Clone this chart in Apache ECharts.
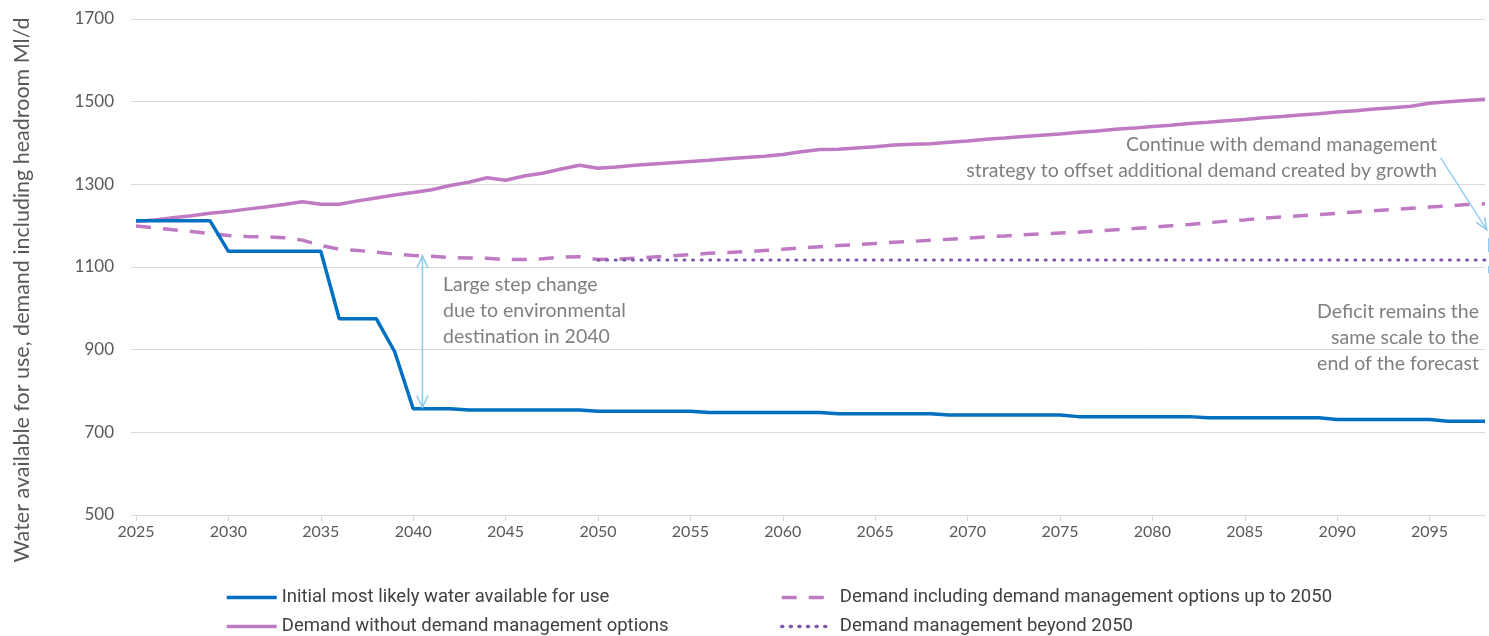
<!DOCTYPE html>
<html>
<head>
<meta charset="utf-8">
<script src="https://cdn.jsdelivr.net/npm/echarts@6/dist/echarts.min.js"></script>
<style>
html,body{margin:0;padding:0;background:#fff;}
#chart{width:1489px;height:636px;}
</style>
</head>
<body>
<div id="chart"></div>
<script>
// ---- data ----
const years = [];
for (let y = 2025; y <= 2098; y++) years.push(y);

const yTicks = [500, 700, 900, 1100, 1300, 1500, 1700];
const yAxisTitle = 'Water available for use, demand including headroom Ml/d';

const availableForUse = [
  1212, 1212, 1212, 1212, 1212,
  1138, 1138, 1138, 1138, 1138, 1138,
  975, 975, 975,
  895,
  757, 757, 757,
  754, 754, 754, 754, 754, 754, 754,
  751, 751, 751, 751, 751, 751,
  748, 748, 748, 748, 748, 748, 748,
  745, 745, 745, 745, 745, 745,
  742, 742, 742, 742, 742, 742, 742,
  738, 738, 738, 738, 738, 738, 738,
  735, 735, 735, 735, 735, 735, 735,
  731, 731, 731, 731, 731, 731,
  727, 727, 727
];

const demandWithoutDM = [
  1210, 1214, 1219, 1224, 1230, 1234, 1240, 1245, 1251, 1258,
  1252, 1252, 1260, 1267, 1274, 1280, 1287, 1297, 1305, 1316,
  1310, 1320, 1327, 1337, 1346, 1339, 1342, 1346, 1349, 1352,
  1355, 1358, 1362, 1365, 1368, 1372, 1379, 1384, 1385, 1388,
  1391, 1395, 1397, 1398, 1402, 1405, 1409, 1412, 1416, 1419,
  1422, 1426, 1429, 1433, 1436, 1440, 1443, 1447, 1450, 1454,
  1457, 1461, 1464, 1468, 1471, 1475, 1478, 1482, 1485, 1489,
  1496, 1500, 1503, 1506
];

const demandWithDMTo2050 = [
  1199, 1195, 1190, 1186, 1181, 1176, 1174, 1173, 1171, 1165,
  1152, 1143, 1140, 1136, 1131, 1128, 1126, 1123, 1122, 1121,
  1118, 1118, 1120, 1124, 1125, 1118, 1119, 1121, 1124, 1127,
  1130, 1133, 1135, 1137, 1140, 1143, 1146, 1149, 1152, 1154,
  1157, 1160, 1162, 1165, 1167, 1170, 1173, 1175, 1178, 1180,
  1182, 1184, 1187, 1190, 1193, 1196, 1200, 1203, 1207, 1211,
  1214, 1218, 1221, 1224, 1227, 1230, 1233, 1236, 1239, 1242,
  1245, 1248, 1251, 1253
];

const beyond2050StartYear = 2050;
const dmBeyond2050 = [
  1117, 1117, 1117, 1117, 1117, 1117, 1117, 1117, 1117, 1117,
  1117, 1117, 1117, 1117, 1117, 1117, 1117, 1117, 1117, 1117,
  1117, 1117, 1117, 1117, 1117, 1117, 1117, 1117, 1117, 1117,
  1117, 1117, 1117, 1117, 1117, 1117, 1117, 1117, 1117, 1117,
  1117, 1117, 1117, 1117, 1117, 1117, 1117, 1117, 1117
];

const seriesNames = [
  'Initial most likely water available for use',
  'Demand without demand management options',
  'Demand including demand management options up to 2050',
  'Demand management beyond 2050'
];

// ---- build ----
const pairs = (vals, start) => vals.map((v, i) => [start + i, v]);

const BLUE = '#0070C0', PURPLE = '#BF7AC4', DOT = '#7B58A8';
const ARROW = '#8CCBF0', TXT = '#7F7F7F';
const labelFont = 'Lato, "Open Sans", sans-serif';
const legendFont = 'Roboto, "Liberation Sans", sans-serif';

const chart = echarts.init(document.getElementById('chart'), null, {renderer: 'canvas'});

const legendBase = {
  orient: 'vertical', top: 588, height: 80, padding: 0,
  itemWidth: 50, itemHeight: 14, itemGap: 10,
  itemStyle: {opacity: 0},
  lineStyle: {width: 3.5},
  textStyle: {fontFamily: legendFont, fontSize: 18.5, color: '#404040'},
  selectedMode: false
};

chart.setOption({
  animation: false,
  backgroundColor: '#ffffff',
  grid: {left: 136, right: 4, top: 19, bottom: 121, containLabel: false, outerBoundsMode: 'none'},
  legend: [
    Object.assign({}, legendBase, {left: 225, data: [seriesNames[0], seriesNames[1]]}),
    Object.assign({}, legendBase, {left: 780, itemWidth: 44,
      textStyle: {fontFamily: legendFont, fontSize: 18.5, color: '#404040', padding: [0, 0, 0, 9]},
      data: [seriesNames[2], seriesNames[3]]})
  ],
  xAxis: {
    type: 'value', min: years[0], max: years[years.length - 1], interval: 5,
    axisLine: {show: true, lineStyle: {color: '#D9D9D9', width: 1}},
    axisTick: {show: true, length: 6, lineStyle: {color: '#D9D9D9'}},
    splitLine: {show: false},
    axisLabel: {
      color: '#595959', fontSize: 16, fontFamily: labelFont, margin: 9,
      showMaxLabel: false,
      formatter: v => (v % 5 === 0 ? String(v) : '')
    }
  },
  yAxis: {
    type: 'value', min: yTicks[0], max: yTicks[yTicks.length - 1], interval: 200,
    axisLine: {show: false},
    axisTick: {show: true, length: 5, lineStyle: {color: '#D9D9D9'}},
    splitLine: {show: true, lineStyle: {color: '#D9D9D9', width: 1}},
    axisLabel: {color: '#595959', fontSize: 17, fontFamily: labelFont, margin: 22,
      formatter: v => String(v)}
  },
  series: [
    {
      name: seriesNames[0], type: 'line', data: pairs(availableForUse, years[0]),
      symbol: 'none', color: BLUE, lineStyle: {color: BLUE, width: 3.5}, z: 5
    },
    {
      name: seriesNames[1], type: 'line', data: pairs(demandWithoutDM, years[0]),
      symbol: 'none', color: PURPLE, lineStyle: {color: PURPLE, width: 3.5}, z: 4
    },
    {
      name: seriesNames[2], type: 'line', data: pairs(demandWithDMTo2050, years[0]),
      symbol: 'none', color: PURPLE, lineStyle: {color: PURPLE, width: 3.5, type: [15, 12]}, z: 3
    },
    {
      name: seriesNames[3], type: 'line', data: pairs(dmBeyond2050, beyond2050StartYear),
      symbol: 'none', color: DOT, lineStyle: {color: DOT, width: 3, type: [1, 7.6], cap: 'round'}, z: 6
    }
  ]
});

// ---- annotations ----
function px(x, y) { return chart.convertToPixel({gridIndex: 0}, [x, y]); }
function chevron(tip, from, len, half) {
  const dx = tip[0] - from[0], dy = tip[1] - from[1];
  const d = Math.sqrt(dx*dx + dy*dy); const ux = dx/d, uy = dy/d;
  const bx = tip[0] - ux*len, by = tip[1] - uy*len;
  return {type: 'polyline', silent: true, z: 20,
    shape: {points: [[bx - uy*half, by + ux*half], tip, [bx + uy*half, by - ux*half]]},
    style: {stroke: ARROW, lineWidth: 1.5, fill: null}};
}
const g = [];
// y-axis title
g.push({type: 'text', silent: true, z: 20, x: 22, y: 290, rotation: Math.PI / 2,
  style: {text: yAxisTitle, fill: '#595959', fontSize: 21.5, fontFamily: labelFont,
    align: 'center', verticalAlign: 'middle'}});
// double arrow at 2040
const aTop = px(2040.5, 1127), aBot = px(2040.5, 760);
g.push({type: 'line', silent: true, z: 20, shape: {x1: aTop[0], y1: aTop[1], x2: aBot[0], y2: aBot[1]}, style: {stroke: ARROW, lineWidth: 1.5}});
g.push(chevron(aTop, aBot, 12, 5.5));
g.push(chevron(aBot, aTop, 12, 5.5));
// diagonal arrow from 'Continue' text
const dS = px(2095.6, 1364), dE = px(2098.1, 1190);
g.push({type: 'line', silent: true, z: 20, shape: {x1: dS[0], y1: dS[1], x2: dE[0], y2: dE[1]}, style: {stroke: ARROW, lineWidth: 1.3}});
g.push(chevron(dE, dS, 12, 5));
// partial vertical arrow at the right edge
const vS = px(2098.2, 1170), vE = px(2098.2, 1085);
g.push({type: 'line', silent: true, z: 20, shape: {x1: vS[0], y1: vS[1], x2: vE[0], y2: vE[1]}, style: {stroke: ARROW, lineWidth: 1.3, lineDash: [14, 14]}});

const tStyle = {fill: TXT, fontSize: 19.5, fontFamily: labelFont, lineHeight: 26, verticalAlign: 'top'};
g.push({type: 'text', silent: true, z: 20, x: 443, y: 272,
  style: Object.assign({text: 'Large step change\ndue to environmental\ndestination in 2040', align: 'left'}, tStyle)});
g.push({type: 'text', silent: true, z: 20, x: 1437, y: 132,
  style: Object.assign({text: 'Continue with demand management\nstrategy to offset additional demand created by growth', align: 'right'}, tStyle)});
g.push({type: 'text', silent: true, z: 20, x: 1479, y: 299,
  style: Object.assign({text: 'Deficit remains the\nsame scale to the\nend of the forecast', align: 'right'}, tStyle)});

chart.setOption({graphic: g});
</script>
</body>
</html>
